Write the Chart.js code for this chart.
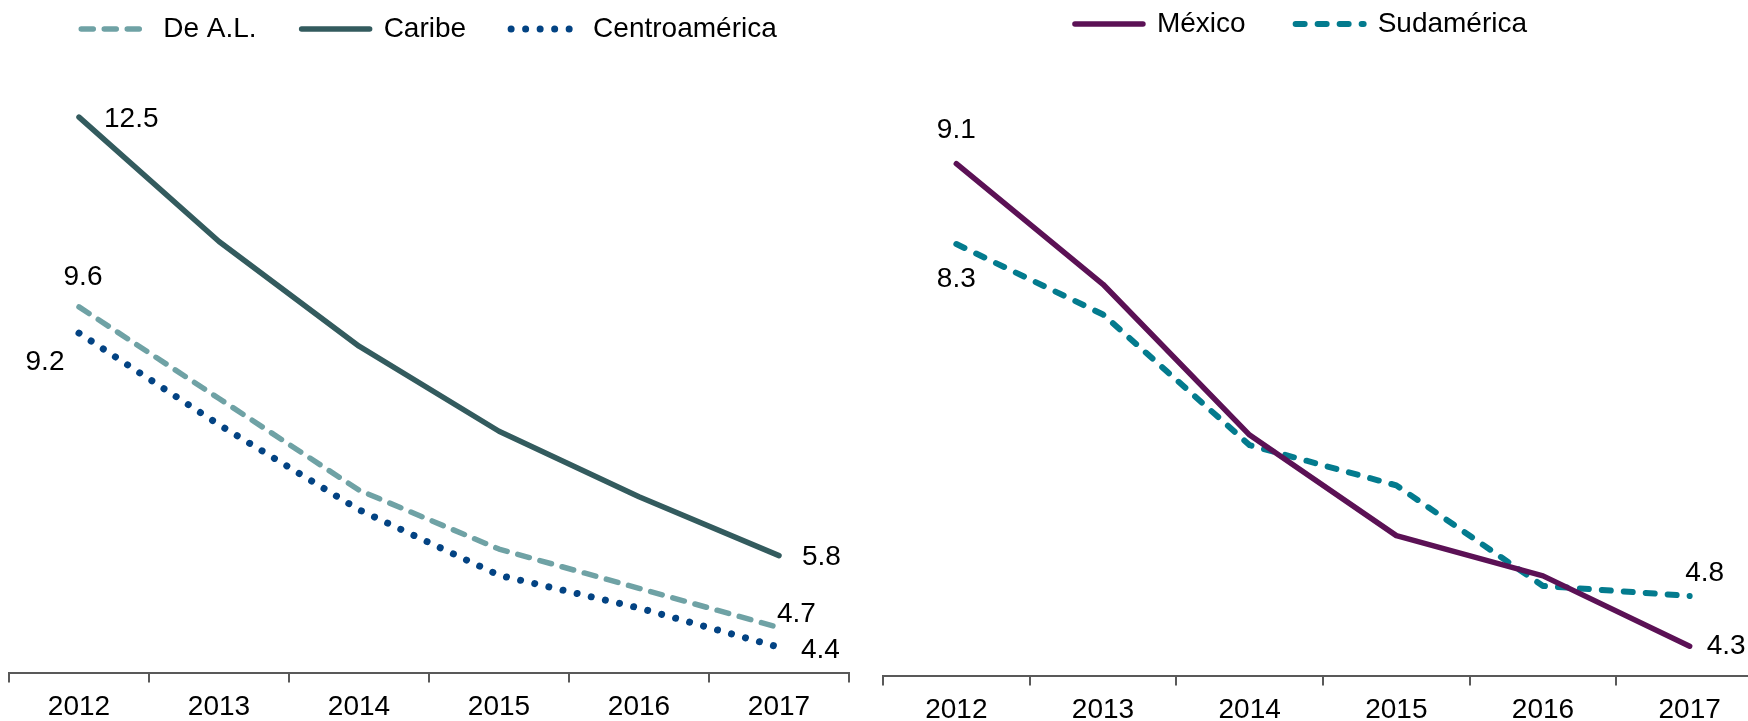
<!DOCTYPE html>
<html><head><meta charset="utf-8">
<script src="https://cdn.jsdelivr.net/npm/chart.js@4.4.1/dist/chart.umd.min.js"></script>
<style>
html,body{margin:0;padding:0;background:#fff;overflow:hidden;width:1748px;height:721px;}
#c1{position:absolute;left:0;top:0;}
#c2{position:absolute;left:870px;top:0;}
</style></head><body>
<canvas id="c1" width="860" height="732" style="width:860px;height:732px"></canvas>
<canvas id="c2" width="900" height="735" style="width:900px;height:735px"></canvas>
<script>
// ---- data ----
const years = ['2012', '2013', '2014', '2015', '2016', '2017'];
const deAL = [9.6, 8.2, 6.8, 5.9, 5.3, 4.7];
const caribe = [12.5, 10.6, 9.0, 7.7, 6.7, 5.8];
const centroamerica = [9.2, 7.8, 6.5, 5.5, 5.0, 4.4];
const mexico = [9.1, 7.9, 6.4, 5.4, 5.0, 4.3];
const sudamerica = [8.3, 7.6, 6.3, 5.9, 4.9, 4.8];

const FONT = '"Liberation Sans", Arial, sans-serif';
const FS = 28;

const valueLabels = {
  id: 'valueLabels',
  afterLayout(chart, args, opts) {
    const s = opts.legendShift || 0;
    if (chart.legend) { chart.legend.left += s; chart.legend.right += s; }
  },
  afterDatasetsDraw(chart, args, opts) {
    const ctx = chart.ctx;
    ctx.save();
    ctx.font = FS + 'px ' + FONT;
    ctx.fillStyle = '#000';
    ctx.textBaseline = 'middle';
    (opts.items || []).forEach(it => {
      const pt = chart.getDatasetMeta(it.ds).data[it.i];
      const v = chart.data.datasets[it.ds].data[it.i];
      ctx.textAlign = it.align || 'center';
      ctx.fillText(v.toFixed(1), pt.x + it.dx, pt.y + it.dy);
    });
    ctx.restore();
  }
};

function legendItems(chart) {
  return chart.data.datasets.map((d, i) => ({
    text: d.label,
    fillStyle: d.borderColor,
    strokeStyle: d.borderColor,
    fontColor: '#000',
    lineWidth: d.borderWidth,
    lineDash: d.borderDash,
    lineCap: 'round',
    lineJoin: 'round',
    pointStyle: 'line',
    hidden: false,
    datasetIndex: i
  }));
}

function baseOptions(cfg) {
  return {
    responsive: false,
    animation: false,
    devicePixelRatio: 1,
    layout: { padding: cfg.padding },
    elements: { point: { radius: 0, hoverRadius: 0 }, line: { tension: 0 } },
    plugins: {
      tooltip: { enabled: false },
      legend: {
        display: true,
        position: 'top',
        align: 'center',
        labels: {
          usePointStyle: true,
          pointStyle: 'line',
          pointStyleWidth: 68,
          padding: cfg.legendPadding,
          color: '#000',
          font: { family: FONT, size: FS },
          generateLabels: legendItems
        }
      },
      valueLabels: { items: cfg.labels, legendShift: cfg.legendShift }
    },
    scales: {
      x: {
        type: 'category',
        offset: true,
        border: { display: true, color: '#595959', width: 2 },
        grid: { display: true, drawOnChartArea: false, drawTicks: true, tickLength: 9, color: '#595959', lineWidth: 2, offset: true },
        ticks: { color: '#000', padding: 8, align: 'center', font: { family: FONT, size: FS }, minRotation: 0, maxRotation: 0, autoSkip: false }
      },
      y: { display: false, min: 4, max: cfg.ymax }
    }
  };
}

function ds(label, data, color, width, dash) {
  return {
    label: label, data: data, borderColor: color, backgroundColor: color,
    borderWidth: width, borderDash: dash, borderCapStyle: 'round',
    borderJoinStyle: 'round', pointRadius: 0, fill: false, clip: false
  };
}

new Chart(document.getElementById('c1'), {
  type: 'line',
  data: {
    labels: years,
    datasets: [
      ds('De A.L.', deAL, '#6fa2a5', 5.5, [12, 11]),
      ds('Caribe', caribe, '#335b5e', 5.5, []),
      ds('Centroamérica', centroamerica, '#034383', 7, [0.01, 14.5])
    ]
  },
  options: baseOptions({
    padding: { top: -30, left: 9, right: 11, bottom: 0 },
    legendPadding: 45,
    legendShift: 0,
    ymax: 13.48,
    labels: [
      { ds: 1, i: 0, dx: 25, dy: 2, align: 'left' },
      { ds: 1, i: 5, dx: 23, dy: 2, align: 'left' },
      { ds: 0, i: 0, dx: 4, dy: -30, align: 'center' },
      { ds: 0, i: 5, dx: -2, dy: -13, align: 'left' },
      { ds: 2, i: 0, dx: -34, dy: 29, align: 'center' },
      { ds: 2, i: 5, dx: 22, dy: 3, align: 'left' }
    ]
  }),
  plugins: [valueLabels]
});

new Chart(document.getElementById('c2'), {
  type: 'line',
  data: {
    labels: years,
    datasets: [
      ds('México', mexico, '#5b1155', 5.5, []),
      ds('Sudamérica', sudamerica, '#037b8e', 6, [9, 13])
    ]
  },
  options: baseOptions({
    padding: { top: -40, left: 13, right: 7, bottom: 0 },
    legendPadding: 50,
    legendShift: -22,
    ymax: 10.25,
    labels: [
      { ds: 0, i: 0, dx: 0, dy: -33, align: 'center' },
      { ds: 0, i: 5, dx: 17, dy: 0, align: 'left' },
      { ds: 1, i: 0, dx: 0, dy: 35, align: 'center' },
      { ds: 1, i: 5, dx: 15, dy: -23, align: 'center' }
    ]
  }),
  plugins: [valueLabels]
});
</script>
</body></html>
